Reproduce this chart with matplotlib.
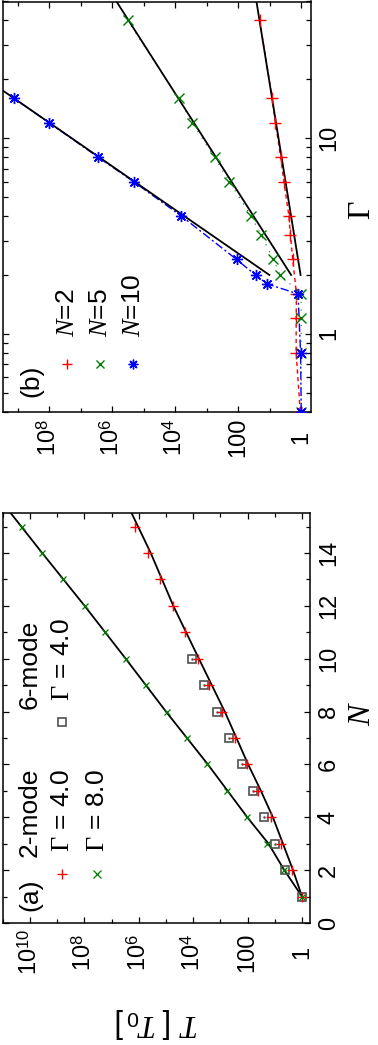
import numpy as np
import matplotlib
matplotlib.use("Agg")
import matplotlib.pyplot as plt
from matplotlib.ticker import FixedLocator, FixedFormatter, NullFormatter, LogLocator

plt.rcParams['font.family'] = ['Liberation Sans', 'DejaVu Sans']
plt.rcParams['mathtext.fontset'] = 'custom'
plt.rcParams['mathtext.rm'] = 'Liberation Sans'
plt.rcParams['mathtext.it'] = 'Liberation Serif:italic'
plt.rcParams['mathtext.sf'] = 'Liberation Serif'
plt.rcParams['mathtext.bf'] = 'Liberation Sans:bold'

# ---------------- data: panel (a) ----------------
N_a = [1, 2, 3, 4, 5, 6, 7, 8, 9, 10, 11, 12, 13, 14, 15]
logT_2mode_G4 = [0, 0.37, 0.77, 1.15, 1.60, 2.04, 2.47, 2.93, 3.40, 3.83, 4.30, 4.75, 5.21, 5.65, 6.14]
logT_2mode_G8 = [0, 0.65, 1.30, 2.04, 2.74, 3.48, 4.22, 4.98, 5.74, 6.48, 7.25, 7.99, 8.77, 9.57, 10.28]
N_a6 = [1, 2, 3, 4, 5, 6, 7, 8, 9, 10]
logT_6mode_G4 = [0, 0.62, 0.98, 1.38, 1.79, 2.21, 2.70, 3.12, 3.60, 4.04]
fitA_G4_N = [1, 2, 3, 4, 5, 6, 8, 10, 12, 14, 15.5]
fitA_G4_logT = [0, 0.33, 0.70, 1.07, 1.51, 1.98, 2.84, 3.79, 4.73, 5.56, 6.26]
fitA_G8_N = [1, 2, 3, 4, 6, 8, 10, 12, 14, 15.5]
fitA_G8_logT = [0, 0.65, 1.23, 2.01, 3.46, 5.0, 6.48, 7.99, 9.55, 10.7]

# ---------------- data: panel (b) ----------------
G_N2 = [0.4, 0.8, 1.2, 1.6, 2.4, 3.2, 4, 6, 8, 12, 16, 40]
logT_N2 = [0.03, 0.16, 0.16, 0.15, 0.27, 0.34, 0.39, 0.55, 0.65, 0.82, 0.92, 1.32]
G_N5 = [0.4, 0.8, 1.2, 1.6, 2.0, 2.4, 3.2, 4, 6, 8, 12, 16, 40]
logT_N5 = [0, 0, 0, 0, 0.67, 0.88, 1.27, 1.59, 2.28, 2.75, 3.46, 3.89, 5.51]
G_N10 = [0.4, 0.8, 1.6, 1.8, 2.0, 2.4, 4, 6, 8, 12, 16]
logT_N10 = [0, 0.02, 0.10, 1.08, 1.45, 2.05, 3.80, 5.32, 6.44, 8.0, 9.11]
fitB_G = [2, 50]
fitB_N2_logT = [0.02, 1.42]
fitB_N5_logT = [0.32, 5.86]
fitB_N10_G = [2, 20]
fitB_N10_logT = [1.01, 9.98]

# ---------------- ticks ----------------
T_ticks_a = [1, 1e2, 1e4, 1e6, 1e8, 1e10]
T_labels_a = ['1', '100', r'$10^{4}$', r'$10^{6}$', r'$10^{8}$', r'$10^{10}$']
T_ticks_b = [1, 1e2, 1e4, 1e6, 1e8]
T_labels_b = ['1', '100', r'$10^{4}$', r'$10^{6}$', r'$10^{8}$']
N_ticks = [0, 2, 4, 6, 8, 10, 12, 14]
G_ticks = [1, 10]
G_labels = ['1', '10']

RED = '#ff0000'
GREEN = '#007a00'
BLUE = '#0000ff'
SQ = '#505050'

def p10(v):
    return 10.0 ** np.asarray(v, dtype=float)

W, H = 378, 1045
fig = plt.figure(figsize=(W / 100, H / 100), dpi=100)

axA = fig.add_axes([2.7 / W, (H - 923) / H, 307.5 / W, (923 - 513.3) / H])
axB = fig.add_axes([2.7 / W, (H - 411.7) / H, 308 / W, (411.7 - 1.5) / H])

# ---------- panel (a) ----------
axA.set_xscale('log')
axA.plot(p10(fitA_G4_logT), fitA_G4_N, color='black', lw=1.3, zorder=2)
axA.plot(p10(fitA_G8_logT), fitA_G8_N, color='black', lw=1.3, zorder=2)
axA.plot(p10(logT_6mode_G4), N_a6, ls='none', marker='s', ms=6, mfc='none',
         mec=SQ, mew=1.2, zorder=3)
axA.plot(p10(logT_6mode_G4), N_a6, ls='none', marker='.', ms=1.5, color=SQ, zorder=3)
axA.plot(p10(logT_2mode_G4), N_a, ls='none', marker='+', ms=6.5, mew=1.0, color=RED, zorder=4)
axA.plot(p10(logT_2mode_G8), N_a, ls='none', marker='x', ms=5, mew=0.9, color=GREEN, zorder=4)
axA.set_xlim(1e11, 0.5)
axA.set_ylim(0, 15.5)

axA.xaxis.set_major_locator(FixedLocator(T_ticks_a))
axA.xaxis.set_major_formatter(FixedFormatter(T_labels_a))
axA.xaxis.set_minor_locator(FixedLocator([10.0 ** k for k in range(0, 12)]))
axA.xaxis.set_minor_formatter(NullFormatter())
axA.yaxis.set_major_locator(FixedLocator(N_ticks))
axA.yaxis.set_minor_locator(FixedLocator(list(range(0, 16))))

# ---------- panel (b) ----------
axB.set_xscale('log')
axB.set_yscale('log')
axB.plot(p10(logT_N2), G_N2, color=RED, lw=1.0, ls=(0, (3, 2.5)), zorder=2)
axB.plot(p10(logT_N5), G_N5, color=GREEN, lw=0.8, ls=(0, (1, 6)), zorder=2)
axB.plot(p10(logT_N10), G_N10, color=BLUE, lw=1.0, ls=(0, (6, 2, 1.5, 2)), zorder=2)
axB.plot(p10(fitB_N2_logT), fitB_G, color='black', lw=1.3, zorder=3)
axB.plot(p10(fitB_N5_logT), fitB_G, color='black', lw=1.3, zorder=3)
axB.plot(p10(fitB_N10_logT), fitB_N10_G, color='black', lw=1.3, zorder=3)
axB.plot(p10(logT_N2), G_N2, ls='none', marker='+', ms=8, mew=1.0, color=RED, zorder=4)
axB.plot(p10(logT_N5), G_N5, ls='none', marker='x', ms=7, mew=1.0, color=GREEN, zorder=4)
axB.plot(p10(logT_N10), G_N10, ls='none', marker=(8, 2, 0), ms=8, mew=1.0, color=BLUE, zorder=4)
axB.set_xlim(10 ** 9.47, 0.5)
axB.set_ylim(0.4, 50)

axB.xaxis.set_major_locator(FixedLocator(T_ticks_b))
axB.xaxis.set_major_formatter(FixedFormatter(T_labels_b))
axB.xaxis.set_minor_locator(FixedLocator([10.0 ** k for k in range(0, 10)]))
axB.xaxis.set_minor_formatter(NullFormatter())
axB.yaxis.set_major_locator(FixedLocator(G_ticks))
axB.yaxis.set_major_formatter(FixedFormatter(G_labels))
axB.yaxis.set_minor_locator(LogLocator(base=10, subs=np.arange(2, 10), numticks=20))
axB.yaxis.set_minor_formatter(NullFormatter())

# ---------- common styling ----------
TFS = 17
for ax, xpad in ((axA, 21.0), (axB, 18.5)):
    for s in ax.spines.values():
        s.set_linewidth(1.1)
    ax.tick_params(which='both', direction='in', top=True, bottom=True,
                   left=True, right=True, labelleft=False, labelright=True,
                   labelbottom=True, width=0.9)
    ax.tick_params(which='major', length=4.5)
    ax.tick_params(which='minor', length=2.6)
    ax.tick_params(axis='x', which='major', pad=xpad, labelsize=TFS)
    ax.tick_params(axis='y', which='major', pad=5.5, labelsize=TFS)
    for t in ax.xaxis.get_major_ticks():
        t.label1.set_rotation(90)
        t.label1.set_va('center')
        t.label1.set_ha('center')
    for t in ax.yaxis.get_major_ticks():
        t.label2.set_rotation(90)
        t.label2.set_va('center')
        t.label2.set_ha('left')
axB.tick_params(axis='y', which='minor', length=3.5)

# ---------- legends (drawn as rotated text) ----------
LFS = 19
axA.text(0.089, 0.030, '(a)', transform=axA.transAxes, rotation=90, ha='center', va='bottom', fontsize=LFS)
axA.text(0.089, 0.161, '2-mode', transform=axA.transAxes, rotation=90, ha='center', va='bottom', fontsize=LFS)
axA.text(0.089, 0.523, '6-mode', transform=axA.transAxes, rotation=90, ha='center', va='bottom', fontsize=LFS)
axA.plot([0.192], [0.119], transform=axA.transAxes, marker='+', ms=6.5, mew=1.0, color=RED, clip_on=False)
axA.text(0.192, 0.174, r'$\mathsf{\Gamma}$ = 4.0', transform=axA.transAxes, rotation=90, ha='center', va='bottom', fontsize=LFS)
axA.plot([0.192], [0.490], transform=axA.transAxes, marker='s', ms=6, mfc='none', mec=SQ, mew=1.2, clip_on=False)
axA.text(0.192, 0.542, r'$\mathsf{\Gamma}$ = 4.0', transform=axA.transAxes, rotation=90, ha='center', va='bottom', fontsize=LFS)
axA.plot([0.306], [0.119], transform=axA.transAxes, marker='x', ms=5.5, mew=0.9, color=GREEN, clip_on=False)
axA.text(0.306, 0.174, r'$\mathsf{\Gamma}$ = 8.0', transform=axA.transAxes, rotation=90, ha='center', va='bottom', fontsize=LFS)

axB.text(0.094, 0.036, '(b)', transform=axB.transAxes, rotation=90, ha='center', va='bottom', fontsize=LFS)
axB.plot([0.208], [0.116], transform=axB.transAxes, marker='+', ms=7, mew=1.0, color=RED, clip_on=False)
axB.text(0.208, 0.182, r'$N$=2', transform=axB.transAxes, rotation=90, ha='center', va='bottom', fontsize=LFS)
axB.plot([0.316], [0.116], transform=axB.transAxes, marker='x', ms=6, mew=1.0, color=GREEN, clip_on=False)
axB.text(0.316, 0.182, r'$N$=5', transform=axB.transAxes, rotation=90, ha='center', va='bottom', fontsize=LFS)
axB.plot([0.424], [0.116], transform=axB.transAxes, marker=(8, 2, 0), ms=7, mew=1.0, color=BLUE, clip_on=False)
axB.text(0.424, 0.182, r'$N$=10', transform=axB.transAxes, rotation=90, ha='center', va='bottom', fontsize=LFS)

# ---------- axis labels ----------
fig.text(362 / W, 1 - 713 / H, r'$N$', rotation=90, ha='center', va='center', fontsize=23)
fig.text(362 / W, 1 - 210 / H, r'$\mathsf{\Gamma}$', rotation=90, ha='center', va='center', fontsize=23)
fig.text(157 / W, 1 - 1023 / H, r'$T\ \,[\;T_0\,]$', rotation=180, ha='center', va='center', fontsize=22)

fig.savefig('out.png', dpi=100)
